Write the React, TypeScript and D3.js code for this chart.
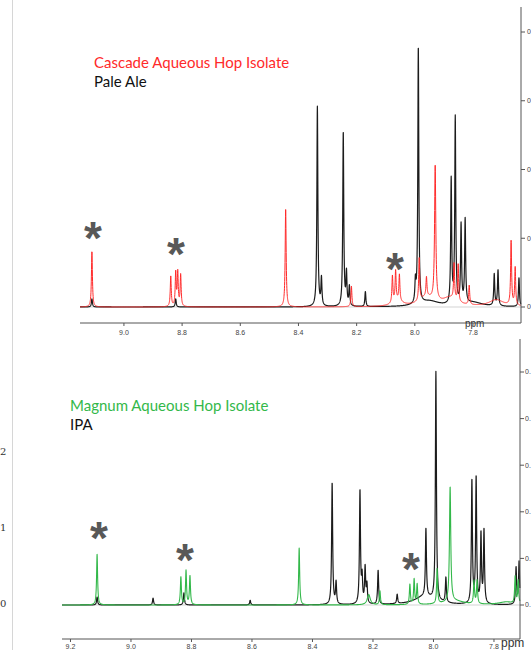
import React from "react"
import * as d3 from "d3"

// peak tables: [ppm, height (axis units), half width in ppm]
const cascadePeaks: number[][] = [
  [9.11, 0.81], [8.839, 0.44], [8.822, 0.49], [8.815, 0.49], [8.805, 0.46],
  [8.444, 1.43], [8.218, 0.3], [8.077, 0.39], [8.066, 0.44], [8.053, 0.38],
  [7.985, 0.62], [7.96, 0.28], [7.93, 1.97, 0.0025], [7.865, 0.52], [7.851, 0.54],
  [7.813, 0.28], [7.669, 0.93], [7.655, 0.55],
  [7.96, 0.13, 0.03], [7.88, 0.12, 0.03], [7.72, 0.1, 0.03], [8.06, 0.08, 0.02],
]
const paleAlePeaks: number[][] = [
  [9.11, 0.12], [8.822, 0.12], [8.335, 2.91], [8.321, 0.4], [8.246, 2.54],
  [8.235, 0.47], [8.225, 0.28], [8.17, 0.22], [7.998, 0.3], [7.988, 3.74],
  [7.875, 1.81], [7.861, 2.71], [7.841, 1.14], [7.827, 1.22], [7.727, 0.46],
  [7.714, 0.52], [7.642, 0.42],
  [7.95, 0.08, 0.04], [7.8, 0.06, 0.04],
]
const magnumPeaks: number[][] = [
  [9.112, 1.09], [8.835, 0.6], [8.818, 0.73], [8.805, 0.62], [8.444, 1.22],
  [8.214, 0.22, 0.006], [8.177, 0.3], [8.078, 0.43], [8.064, 0.54], [8.054, 0.43],
  [7.988, 0.75], [7.945, 2.47, 0.0025], [7.866, 0.49], [7.856, 0.5],
  [7.73, 0.58], [7.72, 0.5],
  [7.93, 0.08, 0.04], [7.76, 0.06, 0.03],
]
const ipaPeaks: number[][] = [
  [9.112, 0.17], [8.927, 0.15], [8.825, 0.26], [8.606, 0.1], [8.335, 2.62],
  [8.322, 0.47], [8.243, 2.43], [8.236, 0.54], [8.226, 0.77], [8.22, 0.4],
  [8.183, 0.73], [8.12, 0.2], [8.025, 1.46], [7.992, 4.91], [7.959, 0.54],
  [7.873, 2.64], [7.859, 2.7], [7.843, 1.48], [7.833, 1.57], [7.727, 0.79],
  [7.717, 0.92],
  [8.03, 0.18, 0.04],
]

const topTicks = [9.0, 8.8, 8.6, 8.4, 8.2, 8.0, 7.8]
const bottomTicks = [9.2, 9.0, 8.8, 8.6, 8.4, 8.2, 8.0, 7.8]
const topYTicks = [0, 1, 2, 3, 4]
const bottomYTicks = [0, 1, 2, 3, 4, 5]
const leftLabels = ["2", "1", "0"]

const RED = "#ff2a2a"
const GREEN = "#33b84a"
const BLACK = "#1c1c1c"
const STAR = "#585858"
const FONT = "Lato, 'Open Sans', sans-serif"

// sum of lorentzians over the visible window
function spectrum(peaks: number[][], hi: number, lo: number) {
  const pts: [number, number][] = []
  for (let p = hi; p >= lo; p -= 0.0004) {
    let v = 0
    peaks.forEach(([c, h, w = 0.002]) => {
      const t = (p - c) / w
      v += h / (1 + t * t)
    })
    pts.push([p, v])
  }
  return pts
}

function Panel(props: any) {
  const { x, y, traces, xTicks, yTicks, axisY, axisTop, ppm, yLabel } = props
  const [x0, x1] = x.range()
  const line = d3.line<[number, number]>().x(d => x(d[0])).y(d => y(d[1]))
  const [hi, lo] = x.domain()
  return (
    <g>
      <line x1={x0} x2={x1} y1={y(0)} y2={y(0)} stroke="#d4d4d4" strokeWidth={1.2} />
      {traces.map((t: any, i: number) => (
        <path key={i} d={line(spectrum(t.peaks, hi, lo)) || ""} fill="none"
          stroke={t.color} strokeWidth={t.width} strokeLinejoin="round" />
      ))}
      {/* bottom axis */}
      <line x1={x0} x2={x1} y1={axisY} y2={axisY} stroke="#555" />
      {xTicks.map((t: number) => (
        <g key={t} transform={`translate(${x(t)},${axisY})`}>
          <line y1={0} y2={3} stroke="#555" />
          <text y={ppm.tickY} textAnchor="middle" fontSize={7} fill="#444"
            fontFamily="Arial, sans-serif">{t.toFixed(1)}</text>
        </g>
      ))}
      <text x={ppm.x} y={ppm.y} fontSize={ppm.size} fill="#333"
        fontFamily="Arial, sans-serif">ppm</text>
      {/* right axis */}
      <line x1={x1} x2={x1} y1={axisTop} y2={axisY} stroke="#555" />
      {yTicks.map((t: number) => (
        <g key={t} transform={`translate(${x1},${y(t)})`}>
          <line x1={0} x2={4} stroke="#555" />
          <text x={yLabel.dx} dy="0.33em" fontSize={7} fill="#444"
            fontFamily="Arial, sans-serif">{yLabel.text}</text>
        </g>
      ))}
    </g>
  )
}

export default function App() {
  const xTop = d3.scaleLinear().domain([9.151, 7.635]).range([80, 521])
  const yTop = d3.scaleLinear().domain([0, 4]).range([307, 32])
  const xBot = d3.scaleLinear().domain([9.228, 7.714]).range([62, 520])
  const yBot = d3.scaleLinear().domain([0, 5]).range([605, 372])

  const star = (cx: number, cy: number, k: string) => (
    <text key={k} x={cx} y={cy + 27} textAnchor="middle" fontSize={46}
      fontWeight="bold" fill={STAR} fontFamily="'Liberation Sans', Arial, sans-serif">*</text>
  )

  return (
    <svg width={531} height={650} style={{ position: "absolute", left: 0, top: 0 }}>
      <rect width={531} height={650} fill="#fff" />
      <line x1={12.5} x2={12.5} y1={0} y2={650} stroke="#d6d6d6" />
      {leftLabels.map((l, i) => (
        <text key={l} x={0} y={[455, 531, 607][i]} fontSize={10}
          fill="#333" fontFamily="'DejaVu Serif', serif">{l}</text>
      ))}

      <Panel x={xTop} y={yTop} xTicks={topTicks} yTicks={topYTicks} axisY={323} axisTop={7}
        ppm={{ x: 465, y: 327, size: 10, tickY: 12 }} yLabel={{ dx: 6, text: "0" }}
        traces={[
          { peaks: paleAlePeaks, color: BLACK, width: 1.2 },
          { peaks: cascadePeaks, color: RED, width: 1 },
        ]} />
      <Panel x={xBot} y={yBot} xTicks={bottomTicks} yTicks={bottomYTicks} axisY={639} axisTop={339}
        ppm={{ x: 501, y: 647, size: 12, tickY: 10 }} yLabel={{ dx: 5, text: "0." }}
        traces={[
          { peaks: ipaPeaks, color: BLACK, width: 1.2 },
          { peaks: magnumPeaks, color: GREEN, width: 1.1 },
        ]} />

      <text x={94} y={68} fontSize={15} fill={RED} fontFamily={FONT}>Cascade Aqueous Hop Isolate</text>
      <text x={94} y={87} fontSize={15} fill="#111" fontFamily={FONT}>Pale Ale</text>
      <text x={70} y={411} fontSize={15} fill={GREEN} fontFamily={FONT}>Magnum Aqueous Hop Isolate</text>
      <text x={70} y={430} fontSize={15} fill="#111" fontFamily={FONT}>IPA</text>

      {star(93, 227, "a")}
      {star(176, 243, "b")}
      {star(395, 258, "c")}
      {star(99, 527, "d")}
      {star(185, 549, "e")}
      {star(411, 558, "f")}
    </svg>
  )
}
